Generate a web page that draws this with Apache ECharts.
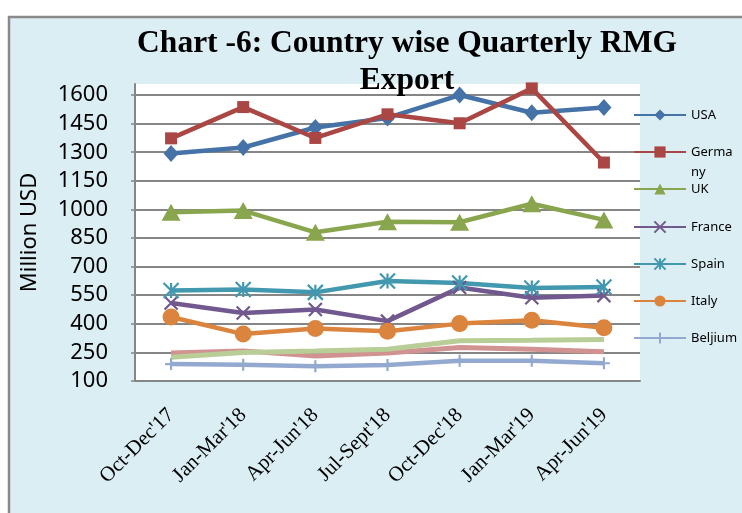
<!DOCTYPE html>
<html lang="en">
<head>
    <meta charset="UTF-8">
    <title>Country wise Quarterly RMG Export</title>
    <style>
        html, body { margin: 0; padding: 0; background: #fff; }
        #main { width: 742px; height: 513px; }
    </style>
</head>
<body>
    <div id="main"></div>
    <script src="https://cdn.jsdelivr.net/npm/echarts@6/dist/echarts.min.js"></script>
    <script>
      // quarters on the x axis
      const quarters = ["Oct-Dec'17", "Jan-Mar'18", "Apr-Jun'18", "Jul-Sept'18", "Oct-Dec'18", "Jan-Mar'19", "Apr-Jun'19"];

      // million USD
      const usa      = [1293, 1325, 1430, 1480, 1600, 1507, 1535];
      const germany  = [1373, 1537, 1375, 1499, 1452, 1635, 1246];
      const uk       = [985, 994, 880, 935, 933, 1030, 945];
      const france   = [509, 457, 475, 414, 590, 537, 548];
      const spain    = [575, 580, 565, 625, 614, 588, 593];
      const italy    = [436, 346, 375, 361, 401, 419, 379];
      const beljium  = [189, 185, 178, 184, 206, 206, 193];
      // two more series drawn in the chart but cut off from its legend
      const series8  = [247, 258, 231, 247, 276, 266, 253];
      const series9  = [224, 250, 257, 267, 311, 314, 318];

      const yTicks = [100, 250, 400, 550, 700, 850, 1000, 1150, 1300, 1450, 1600];

      var chartDom = document.getElementById('main');
      var myChart = echarts.init(chartDom);
      var option;

      const xMark = 'path://M0 0L10 10M10 0L0 10';
      const starMark = 'path://M0 0L10 10M10 0L0 10M5 0L5 10';
      const plusMark = 'path://M5 0L5 10M0 5L10 5';

      function lineSeries(name, data, color, symbol, size, stroked, width) {
        return {
          name: name,
          type: 'line',
          data: data,
          symbol: symbol,
          symbolSize: size,
          showSymbol: symbol !== 'none',
          clip: false,
          lineStyle: { color: color, width: width || 4.5 },
          itemStyle: stroked
            ? { color: color, borderColor: color, borderWidth: 2.2 }
            : { color: color, borderWidth: 0 },
          emphasis: { disabled: true }
        };
      }

      const legendNames = ['USA', 'Germany', 'UK', 'France', 'Spain', 'Italy', 'Beljium'];
      const legendY = [115, 152, 189, 227, 264, 301, 338];

      // one legend per entry so the wrapped "Germa/ny" keeps the even spacing
      const legends = legendNames.map(function (name, i) {
        const isGer = name === 'Germany';
        return {
          data: [name],
          left: 633,
          top: isGer ? legendY[i] - 30 : legendY[i] - 7,
          padding: 0,
          itemWidth: 52,
          itemHeight: 14,
          selectedMode: false,
          formatter: isGer ? ' \nGerma\nny' : '{name}',
          textStyle: {
            fontFamily: 'Noto Sans',
            fontSize: 13,
            color: '#000',
            lineHeight: isGer ? 20 : 14
          }
        };
      });

      option = {
        backgroundColor: '#fff',
        animation: false,
        graphic: [
          {
            type: 'rect',
            z: -10,
            silent: true,
            shape: { x: 9, y: 17, width: 745, height: 505 },
            style: { fill: '#DBEEF4', stroke: '#8a8a8a', lineWidth: 2.5 }
          }
        ],
        title: {
          text: 'Chart -6: Country wise Quarterly RMG\nExport',
          left: 402,
          top: 20,
          textAlign: 'center',
          textStyle: {
            fontFamily: 'Liberation Serif',
            fontWeight: 'bold',
            fontSize: 31.5,
            lineHeight: 37,
            color: '#000'
          }
        },
        legend: legends,
        grid: {
          left: 135,
          right: 102,
          top: 84,
          bottom: 132,
          show: true,
          backgroundColor: '#fff',
          borderWidth: 0
        },
        xAxis: {
          type: 'category',
          data: quarters,
          boundaryGap: true,
          axisLine: { lineStyle: { color: '#868686', width: 2 } },
          axisTick: { show: false },
          axisLabel: {
            rotate: 45,
            margin: 31,
            fontFamily: 'Liberation Serif',
            fontSize: 21,
            color: '#000'
          }
        },
        yAxis: {
          type: 'value',
          min: 100,
          max: 1658,
          interval: 150,
          name: 'Million USD',
          nameLocation: 'middle',
          nameGap: 94,
          nameTextStyle: { fontFamily: 'Noto Sans', fontSize: 22, color: '#000' },
          axisLine: { show: true, lineStyle: { color: '#868686', width: 2 } },
          axisTick: { show: true, length: 4, lineStyle: { color: '#868686', width: 1.5 } },
          axisLabel: {
            margin: 27,
            showMaxLabel: false,
            fontFamily: 'Noto Sans',
            fontSize: 22,
            color: '#000',
            formatter: function (v) { return yTicks.indexOf(v) >= 0 ? String(v) : ''; }
          },
          splitLine: { show: true, showMaxLine: false, lineStyle: { color: '#868686', width: 1.8 } }
        },
        series: [
          lineSeries('USA', usa, '#4572A7', 'diamond', [15, 17], false),
          lineSeries('Germany', germany, '#AA4643', 'rect', 12, false),
          lineSeries('UK', uk, '#89A54E', 'triangle', [19, 17], false),
          lineSeries('France', france, '#71588F', xMark, 13, true),
          lineSeries('Spain', spain, '#4198AF', starMark, 15, true),
          lineSeries('Italy', italy, '#DB843D', 'circle', 17, false),
          lineSeries('Beljium', beljium, '#93A9CF', plusMark, 12, true),
          lineSeries('Series 8', series8, '#D19392', 'none', 0, false, 5),
          lineSeries('Series 9', series9, '#B9CD96', 'none', 0, false, 5)
        ]
      };

      option && myChart.setOption(option);
    </script>
</body>
</html>
